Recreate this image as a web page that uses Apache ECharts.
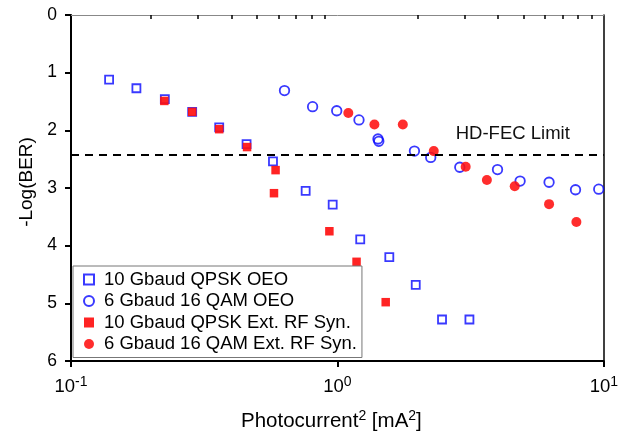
<!DOCTYPE html>
<html><head><meta charset="utf-8">
<script src="https://cdn.jsdelivr.net/npm/echarts@6/dist/echarts.min.js"></script>
<style>html,body{margin:0;padding:0;background:#fff}#c{width:621px;height:443px}</style>
</head><body><div id="c"></div>
<script>
// Series names
const seriesNames = ['10 Gbaud QPSK OEO', '6 Gbaud 16 QAM OEO', '10 Gbaud QPSK Ext. RF Syn.', '6 Gbaud 16 QAM Ext. RF Syn.'];
// x = Photocurrent^2 [mA^2], y = -Log(BER)
const qpskOeoX = [0.139, 0.176, 0.225, 0.285, 0.360, 0.456, 0.573, 0.760, 0.960, 1.218, 1.566, 1.968, 2.47, 3.13];
const qpskOeoY = [1.12, 1.27, 1.46, 1.68, 1.95, 2.24, 2.54, 3.05, 3.29, 3.89, 4.20, 4.68, 5.28, 5.28];
const qamOeoX = [0.633, 0.807, 0.994, 1.205, 1.42, 1.43, 1.946, 2.24, 2.88, 3.99, 4.85, 6.23, 7.83, 9.57];
const qamOeoY = [1.31, 1.59, 1.66, 1.82, 2.15, 2.19, 2.36, 2.47, 2.64, 2.68, 2.88, 2.90, 3.03, 3.02];
const qpskExtX = [0.224, 0.285, 0.360, 0.458, 0.586, 0.578, 0.933, 1.18, 1.518];
const qpskExtY = [1.49, 1.68, 1.98, 2.29, 2.69, 3.09, 3.75, 4.28, 4.98];
const qamExtX = [1.099, 1.377, 1.76, 2.30, 3.03, 3.64, 4.63, 6.23, 7.89];
const qamExtY = [1.70, 1.90, 1.90, 2.36, 2.63, 2.86, 2.97, 3.28, 3.59];
const hdFec = 2.42;
const hdFecLabel = 'HD-FEC Limit';
const xMajorTicks = [0.1, 1, 10];
const xTickExp = {'0.1': '-1', '1': '0', '10': '1'};
const xMinorTicks = [0.2,0.3,0.4,0.5,0.6,0.7,0.8,0.9,2,3,4,5,6,7,8,9];

function pairs(xs, ys){ return xs.map((x,i)=>[x, ys[i]]); }
const FONT = 'Liberation Sans, Arial, sans-serif';
const blue = '#0808ff', red = '#ff1010';

const chart = echarts.init(document.getElementById('c'), null, {renderer:'canvas'});
chart.setOption({
  animation: false,
  textStyle: {fontFamily: FONT, color: '#000'},
  grid: {left: 71, right: 13, top: 15, bottom: 82, containLabel: false},
  legend: {
    orient: 'vertical', left: 73, top: 266,
    padding: [4, 5, 4, 10], itemGap: 2.5,
    itemWidth: 10, itemHeight: 10,
    backgroundColor: '#fff', borderColor: '#777', borderWidth: 1,
    textStyle: {fontFamily: FONT, fontSize: 18.5, color: '#000', padding: [0, 0, 0, 5]},
    data: seriesNames
  },
  xAxis: [{
    type: 'log', logBase: 10, min: 0.1, max: 10, position: 'bottom',
    axisLine: {show: true, onZero: false, lineStyle: {color: '#000', width: 2}},
    axisTick: {show: true, inside: false, length: 6, lineStyle: {color: '#000', width: 2}, customValues: xMajorTicks},
    axisLabel: {
      customValues: xMajorTicks, margin: 14,
      formatter: v => '{b|10}{s|' + xTickExp[String(v)] + '}',
      rich: {b: {fontSize: 18.5, fontFamily: FONT, color: '#000'}, s: {fontSize: 14, fontFamily: FONT, color: '#000', padding: [0, 0, 10, 0]}}
    },
    splitLine: {show: false},
    name: 'Photocurrent{s|2} [mA{s|2}]', nameLocation: 'middle', nameGap: 48,
    nameTextStyle: {fontSize: 20.5, fontFamily: FONT, color: '#000', padding: [0, 12, 0, 0],
      rich: {s: {fontSize: 14, fontFamily: FONT, color: '#000', padding: [0, 0, 11, 0]}}}
  }, {
    type: 'log', logBase: 10, min: 0.1, max: 10, position: 'bottom', gridIndex: 0,
    axisLine: {show: false},
    axisTick: {show: true, inside: false, length: 4, lineStyle: {color: '#000', width: 1.5}, customValues: xMinorTicks},
    axisLabel: {show: false}, splitLine: {show: false}
  }, {
    type: 'log', logBase: 10, min: 0.1, max: 10, position: 'top',
    axisLine: {show: true, lineStyle: {color: '#888', width: 1}},
    axisTick: {show: false}, axisLabel: {show: false}, splitLine: {show: false}
  }],
  yAxis: [{
    type: 'value', inverse: true, min: 0, max: 6, interval: 1,
    axisLine: {show: true, onZero: false, lineStyle: {color: '#000', width: 2}},
    axisTick: {show: true, inside: false, length: 6, lineStyle: {color: '#000', width: 2}},
    axisLabel: {fontSize: 17.5, fontFamily: FONT, color: '#000', margin: 14},
    splitLine: {show: false},
    name: '-Log(BER)', nameLocation: 'middle', nameGap: 34, nameRotate: 90,
    nameTextStyle: {fontSize: 19, fontFamily: FONT, color: '#000', padding: [0, 0, 0, 12]}
  }, {
    type: 'value', inverse: true, min: 0, max: 6, position: 'right',
    axisLine: {show: true, lineStyle: {color: '#000', width: 1.5}},
    axisTick: {show: false}, axisLabel: {show: false}, splitLine: {show: false}
  }],
  series: [{
    name: seriesNames[0], type: 'scatter', symbol: 'rect', symbolSize: 8,
    itemStyle: {color: 'rgba(255,255,255,0)', borderColor: blue, borderWidth: 1.8},
    data: pairs(qpskOeoX, qpskOeoY), z: 2,
    markLine: {
      silent: true, symbol: 'none', animation: false,
      lineStyle: {color: '#000', type: [8, 6], width: 2},
      label: {show: true, position: 'insideEndTop', formatter: hdFecLabel, fontSize: 18.5, fontFamily: FONT, color: '#111', distance: [34, 11]},
      data: [{yAxis: hdFec}]
    }
  }, {
    name: seriesNames[1], type: 'scatter', symbol: 'circle', symbolSize: 9.5,
    itemStyle: {color: 'rgba(255,255,255,0)', borderColor: blue, borderWidth: 1.8},
    data: pairs(qamOeoX, qamOeoY), z: 2
  }, {
    name: seriesNames[2], type: 'scatter', symbol: 'rect', symbolSize: 8.5,
    itemStyle: {color: red, opacity: 0.92},
    data: pairs(qpskExtX, qpskExtY), z: 3
  }, {
    name: seriesNames[3], type: 'scatter', symbol: 'circle', symbolSize: 10,
    itemStyle: {color: red, opacity: 0.88},
    data: pairs(qamExtX, qamExtY), z: 3
  }]
});
</script></body></html>
